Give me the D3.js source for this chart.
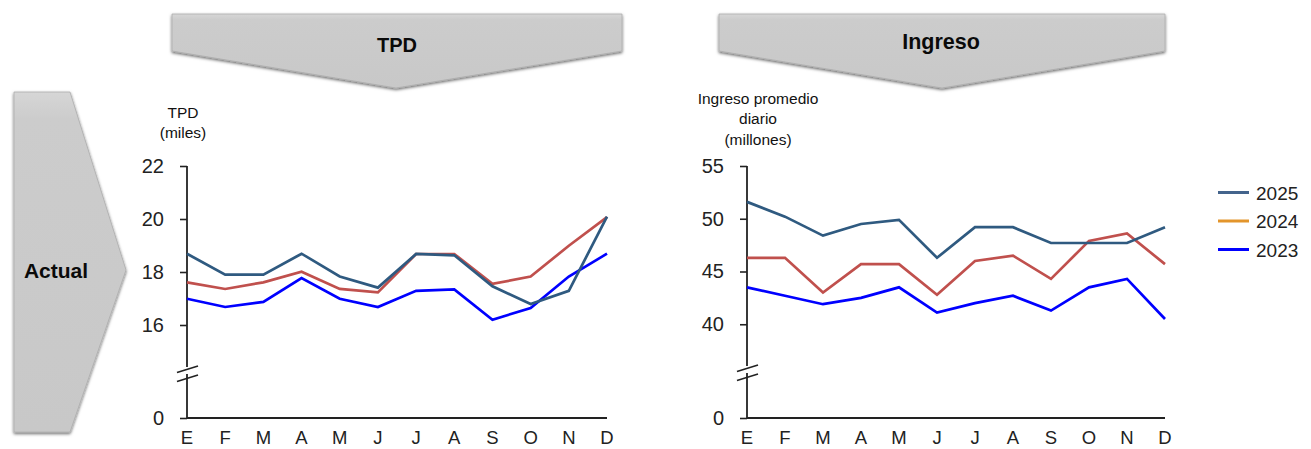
<!DOCTYPE html>
<html>
<head>
<meta charset="utf-8">
<script src="https://cdn.jsdelivr.net/npm/d3@7"></script>
<style>
  html, body { margin: 0; padding: 0; background: #fff; }
  svg { display: block; font-family: "Liberation Sans", Arial, sans-serif; }
</style>
</head>
<body>
<svg id="chart" width="1311" height="449"></svg>
<script>
// Months (Spanish initials)
const months = ["E", "F", "M", "A", "M", "J", "J", "A", "S", "O", "N", "D"];

// TPD (miles)
const tpd2025 = [18.69, 17.90, 17.90, 18.69, 17.83, 17.41, 18.68, 18.63, 17.46, 16.79, 17.29, 20.09];
const tpd2024 = [17.61, 17.36, 17.61, 18.01, 17.36, 17.23, 18.68, 18.68, 17.55, 17.83, 18.99, 20.07];
const tpd2023 = [16.99, 16.68, 16.87, 17.77, 16.99, 16.68, 17.29, 17.34, 16.20, 16.64, 17.83, 18.69];

// Ingreso promedio diario (millones)
const ing2025 = [51.6, 50.2, 48.4, 49.5, 49.9, 46.3, 49.2, 49.2, 47.7, 47.7, 47.7, 49.2];
const ing2024 = [46.3, 46.3, 43.0, 45.7, 45.7, 42.8, 46.0, 46.5, 44.3, 47.9, 48.6, 45.7];
const ing2023 = [43.5, 42.7, 41.9, 42.5, 43.5, 41.1, 42.0, 42.7, 41.3, 43.5, 44.3, 40.5];

const tpdTicks = [0, 16, 18, 20, 22];
const ingTicks = [0, 40, 45, 50, 55];

const legendYears = ["2025", "2024", "2023"];
const legendColors = ["#44648C", "#E3952B", "#0000FF"];
const lineColors = { y2025: "#2F5A80", y2024: "#C0504D", y2023: "#0000FF" };

const svg = d3.select("#chart");
const defs = svg.append("defs");

// soft shadow for the banner shapes
const f = defs.append("filter").attr("id", "shadow")
  .attr("x", "-10%").attr("y", "-10%").attr("width", "120%").attr("height", "130%");
f.append("feDropShadow").attr("dx", 0).attr("dy", 1.5).attr("stdDeviation", 1.6)
  .attr("flood-color", "#000").attr("flood-opacity", 0.6);

const gradV = defs.append("linearGradient").attr("id", "bannerFill")
  .attr("x1", 0).attr("y1", 0).attr("x2", 0).attr("y2", 1);
gradV.append("stop").attr("offset", "0%").attr("stop-color", "#d6d6d6");
gradV.append("stop").attr("offset", "8%").attr("stop-color", "#cccccc");
gradV.append("stop").attr("offset", "100%").attr("stop-color", "#c8c8c8");

function banner(points, label, tx, ty, size) {
  const g = svg.append("g");
  g.append("path")
    .attr("d", d3.line()(points) + "Z")
    .attr("fill", "url(#bannerFill)")
    .attr("stroke", "#adadad")
    .attr("stroke-width", 0.8)
    .attr("filter", "url(#shadow)");
  g.append("text")
    .attr("x", tx).attr("y", ty)
    .attr("text-anchor", "middle")
    .attr("font-weight", "bold")
    .attr("font-size", size)
    .attr("fill", "#0a0a0a")
    .text(label);
}

// Column headers (downward chevrons) and row header (right chevron)
banner([[172, 14], [622, 14], [622, 51], [396, 88], [172, 51]], "TPD", 397, 52, 20);
banner([[719, 14], [1165, 14], [1165, 51], [942, 88], [719, 51]], "Ingreso", 941, 49, 21.5);
banner([[14, 92], [70, 92], [126, 270], [70, 432], [14, 432]], "Actual", 56, 278, 21);

function panel(opts) {
  const { x0, x1, yTop, yBreak, yZero, breakVal, topVal, ticks, series, labelLines, labelX, labelY0, labelDy } = opts;

  const x = d3.scaleLinear().domain([0, months.length - 1]).range([x0, x1]);
  const y = d3.scaleLinear().domain([0, breakVal, topVal]).range([yZero, yBreak, yTop]);

  const g = svg.append("g");

  // y axis
  const yAxis = d3.axisLeft(y).tickValues(ticks).tickSize(7).tickPadding(16).tickFormat(d3.format("d"));
  const ga = g.append("g").attr("transform", `translate(${x0},0)`).call(yAxis);
  ga.select(".domain").remove();
  ga.selectAll(".tick line").attr("stroke", "#222").attr("stroke-width", 1.6);
  ga.selectAll(".tick text").attr("font-size", 20).attr("fill", "#222")
    .attr("font-family", "'Liberation Sans', Arial, sans-serif");

  // axis line, broken between the lowest non-zero tick and zero
  const bTop = yBreak - 12, bBot = yBreak - 3;
  g.append("line").attr("x1", x0).attr("x2", x0).attr("y1", y(topVal)).attr("y2", bTop + 1)
    .attr("stroke", "#222").attr("stroke-width", 1.8);
  g.append("line").attr("x1", x0).attr("x2", x0).attr("y1", bBot - 1).attr("y2", yZero)
    .attr("stroke", "#222").attr("stroke-width", 1.8);
  [bTop + 3.5, bBot + 3.5].forEach(cy => {
    g.append("line").attr("x1", x0 - 10).attr("y1", cy + 3).attr("x2", x0 + 11).attr("y2", cy - 3.5)
      .attr("stroke", "#222").attr("stroke-width", 1.6);
  });

  // x axis baseline and month labels
  g.append("line").attr("x1", x0).attr("x2", x1).attr("y1", yZero).attr("y2", yZero)
    .attr("stroke", "#222").attr("stroke-width", 1.8);
  g.selectAll("text.month").data(months).join("text")
    .attr("class", "month")
    .attr("x", (d, i) => x(i)).attr("y", 444)
    .attr("text-anchor", "middle").attr("font-size", 18.5).attr("fill", "#222")
    .text(d => d);

  // series lines
  const line = d3.line().x((d, i) => x(i)).y(d => y(d));
  series.forEach(s => {
    g.append("path").datum(s.values)
      .attr("d", line).attr("fill", "none")
      .attr("stroke", s.color).attr("stroke-width", 2.7)
      .attr("stroke-linejoin", "miter");
  });

  // axis title
  labelLines.forEach((t, i) => {
    g.append("text").attr("x", labelX).attr("y", labelY0 + i * labelDy)
      .attr("text-anchor", "middle").attr("font-size", 15.5).attr("fill", "#111").text(t);
  });
}

panel({
  x0: 187, x1: 607, yTop: 166, yBreak: 378, yZero: 418, breakVal: 14, topVal: 22,
  ticks: tpdTicks,
  series: [
    { values: tpd2023, color: lineColors.y2023 },
    { values: tpd2024, color: lineColors.y2024 },
    { values: tpd2025, color: lineColors.y2025 }
  ],
  labelLines: ["TPD", "(miles)"], labelX: 183, labelY0: 118, labelDy: 20
});

panel({
  x0: 747, x1: 1165, yTop: 166, yBreak: 377, yZero: 418, breakVal: 35, topVal: 55,
  ticks: ingTicks,
  series: [
    { values: ing2023, color: lineColors.y2023 },
    { values: ing2024, color: lineColors.y2024 },
    { values: ing2025, color: lineColors.y2025 }
  ],
  labelLines: ["Ingreso promedio", "diario", "(millones)"], labelX: 758, labelY0: 104, labelDy: 20.3
});

// legend
const lg = svg.append("g");
legendYears.forEach((yr, i) => {
  const cy = 192.5 + i * 28.5;
  lg.append("line").attr("x1", 1218).attr("x2", 1249).attr("y1", cy).attr("y2", cy)
    .attr("stroke", legendColors[i]).attr("stroke-width", 3);
  lg.append("text").attr("x", 1256).attr("y", cy + 7).attr("font-size", 19)
    .attr("fill", "#222").text(yr);
});
</script>
</body>
</html>
